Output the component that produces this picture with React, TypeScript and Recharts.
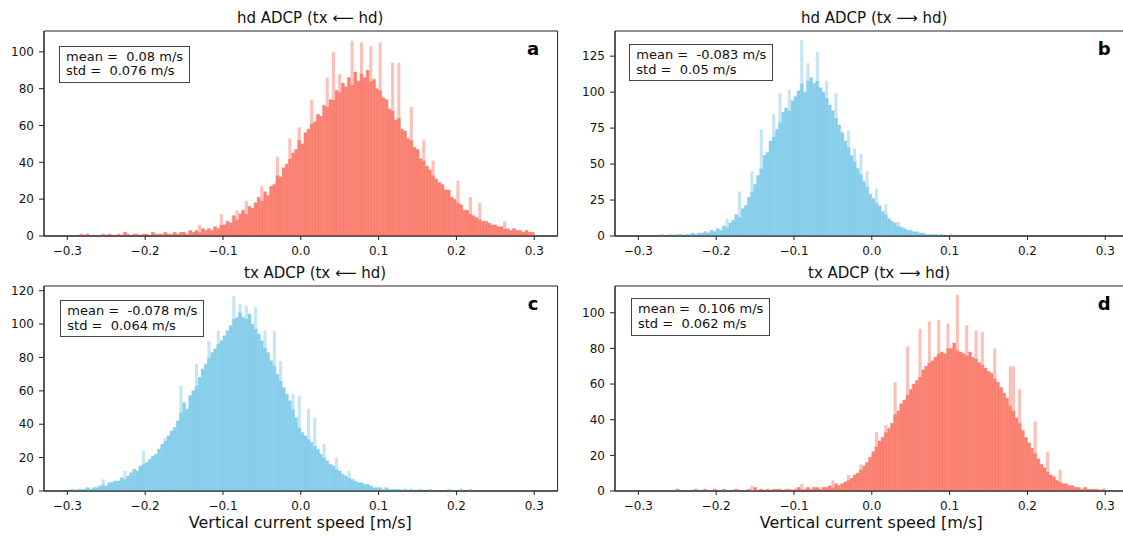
import React from 'react';
import { BarChart, Bar, XAxis, YAxis, ReferenceArea } from 'recharts';

// histogram bins: 150 bins of 0.004 m/s from -0.3 to 0.3
const BIN_START = -0.3;
const BIN_WIDTH = 0.004;

// hd ADCP (tx <- hd)
const hdLeftCounts = [
  0, 0, 0, 0, 1, 0, 1, 0, 0, 0, 0, 1, 0, 1, 0, 0, 1, 0, 2, 1, 0, 1, 1, 0, 1,
  1, 0, 2, 1, 1, 1, 2, 1, 1, 2, 1, 2, 2, 1, 3, 2, 3, 2, 4, 3, 4, 3, 5, 4, 6,
  6, 8, 7, 11, 9, 12, 14, 12, 16, 15, 18, 21, 19, 24, 22, 27, 28, 33, 32, 37, 39, 42, 45, 47, 52,
  50, 56, 58, 61, 62, 66, 65, 71, 70, 74, 74, 79, 78, 83, 81, 86, 82, 89, 84, 88, 86, 90, 84, 85, 80,
  79, 75, 74, 69, 68, 63, 64, 58, 57, 53, 52, 48, 47, 42, 41, 38, 36, 33, 31, 29, 28, 25, 25, 21, 20,
  18, 17, 14, 14, 12, 11, 10, 9, 8, 8, 7, 6, 6, 5, 5, 4, 4, 3, 4, 3, 3, 2, 3, 2, 2,
];
// taller single-bin spikes [speed, count]
const hdLeftSpikes = [
  [-0.13, 6], [-0.1, 12], [-0.081, 14], [-0.068, 19], [-0.05, 27], [-0.03, 43], [-0.013, 53],
  [-0.004, 59], [0.013, 74], [0.034, 86], [0.043, 100], [0.051, 88], [0.066, 106], [0.08, 105],
  [0.092, 103], [0.101, 105], [0.117, 94], [0.125, 94], [0.14, 70], [0.16, 52], [0.172, 41],
  [0.2, 30], [0.218, 21], [0.23, 18], [0.262, 8],
];

// hd ADCP (tx -> hd)
const hdRightCounts = [
  0, 0, 0, 0, 0, 0, 0, 1, 0, 0, 1, 0, 1, 1, 0, 1, 1, 2, 1, 2, 2, 3, 2, 4, 3,
  5, 4, 7, 6, 9, 11, 15, 13, 19, 21, 27, 31, 36, 42, 47, 56, 58, 66, 69, 74, 79, 86, 89, 87, 94,
  97, 101, 106, 100, 108, 110, 106, 108, 103, 100, 96, 91, 87, 82, 77, 72, 66, 62, 56, 52, 47, 43, 38, 34, 29,
  26, 23, 21, 17, 15, 12, 10, 9, 7, 6, 5, 4, 4, 3, 3, 2, 2, 1, 1, 1, 1, 0, 1, 0, 0,
  1, 0, 0, 0, 0, 0, 0, 0, 0, 0, 0, 0, 0, 0, 0, 0, 0, 0, 0, 0, 0, 0, 0, 0, 0,
  0, 0, 0, 0, 0, 0, 0, 0, 0, 0, 0, 0, 0, 0, 0, 0, 0, 0, 0, 0, 0, 0, 0, 0, 0,
];
const hdRightSpikes = [
  [-0.185, 12], [-0.172, 31], [-0.155, 45], [-0.142, 74], [-0.125, 85], [-0.116, 99],
  [-0.107, 102], [-0.091, 136], [-0.081, 120], [-0.068, 128], [-0.056, 108], [-0.047, 99],
  [-0.03, 73], [-0.021, 61], [-0.014, 57], [-0.006, 45], [0.007, 33], [0.02, 22], [0.033, 10],
];

// tx ADCP (tx <- hd)
const txLeftCounts = [
  0, 1, 0, 1, 1, 1, 2, 1, 2, 2, 3, 4, 3, 5, 5, 6, 6, 8, 7, 9, 11, 13, 12, 15, 16,
  17, 19, 21, 22, 25, 28, 30, 33, 36, 38, 42, 47, 53, 49, 57, 60, 63, 68, 73, 76, 80, 83, 85, 88, 90,
  93, 96, 99, 103, 104, 107, 104, 103, 106, 100, 97, 94, 90, 86, 83, 78, 75, 70, 66, 62, 58, 54, 49, 44, 38,
  35, 33, 31, 29, 27, 25, 22, 20, 18, 16, 15, 13, 12, 10, 9, 8, 7, 6, 5, 5, 4, 4, 3, 2, 2,
  2, 1, 2, 1, 1, 1, 1, 0, 1, 0, 1, 0, 0, 1, 0, 0, 1, 0, 0, 0, 0, 0, 1, 0, 0,
  0, 1, 0, 0, 1, 0, 0, 0, 0, 0, 0, 0, 0, 0, 0, 0, 0, 0, 0, 0, 0, 0, 0, 0, 0,
];
const txLeftSpikes = [
  [-0.255, 7], [-0.225, 12], [-0.2, 24], [-0.174, 32], [-0.155, 63], [-0.135, 76], [-0.12, 90],
  [-0.105, 96], [-0.086, 117], [-0.079, 112], [-0.069, 111], [-0.058, 110], [-0.045, 96],
  [-0.032, 96], [-0.024, 78], [-0.011, 58], [-0.002, 57], [0.011, 49], [0.019, 44], [0.032, 28],
  [0.045, 20], [0.062, 12],
];

// tx ADCP (tx -> hd)
const txRightCounts = [
  0, 0, 0, 0, 0, 0, 0, 0, 0, 0, 0, 0, 1, 0, 0, 0, 0, 0, 1, 0, 0, 1, 0, 0, 1,
  0, 0, 1, 0, 0, 0, 1, 0, 0, 0, 1, 0, 2, 0, 1, 0, 1, 0, 1, 1, 1, 0, 1, 1, 0,
  1, 2, 1, 1, 2, 1, 2, 2, 1, 2, 2, 3, 2, 4, 3, 4, 5, 6, 7, 9, 10, 12, 14, 16, 19,
  22, 25, 28, 30, 33, 35, 38, 43, 45, 49, 51, 54, 57, 60, 62, 64, 68, 70, 72, 73, 75, 77, 78, 77, 80,
  80, 83, 79, 78, 77, 76, 78, 75, 74, 72, 71, 69, 67, 66, 63, 61, 58, 55, 52, 48, 45, 41, 38, 34, 30,
  27, 24, 21, 18, 15, 13, 11, 9, 8, 6, 5, 4, 4, 3, 3, 2, 2, 1, 2, 1, 1, 1, 1, 0, 1,
];
const txRightSpikes = [
  [-0.155, 3], [-0.09, 4], [-0.05, 6], [-0.03, 9], [-0.015, 15], [0.005, 33], [0.018, 37],
  [0.031, 61], [0.048, 81], [0.063, 91], [0.076, 95], [0.085, 96], [0.1, 94], [0.109, 110],
  [0.122, 93], [0.132, 90], [0.141, 89], [0.16, 80], [0.18, 70], [0.188, 57], [0.21, 39],
  [0.225, 22], [0.242, 12],
];

const X_TICKS = [-0.3, -0.2, -0.1, 0, 0.1, 0.2, 0.3];
const X_DOMAIN: [number, number] = [-0.33, 0.33];

const SALMON = '#fa8072';
const SALMON_LIGHT = '#fcc0b8';
const SKYBLUE = '#87ceeb';
const SKYBLUE_LIGHT = '#c4e6f4';
const FONT = '"DejaVu Sans", Verdana, sans-serif';

const PLOT_W = 513.6;
const PLOT_H = 205;
const Y_AXIS_W = 40;
const TOP_PAD = 10;
const X_AXIS_H = 30;
const BAR_PX = (BIN_WIDTH * PLOT_W) / (X_DOMAIN[1] - X_DOMAIN[0]) - 0.01;

const toRows = (counts: number[], spikes: number[][]) =>
  counts.map((count, i) => {
    const lo = BIN_START + BIN_WIDTH * i;
    let top = count;
    spikes.forEach(([s, h]) => {
      if (s >= lo && s < lo + BIN_WIDTH) top = Math.max(top, h);
    });
    return {
      x: Math.round((lo + BIN_WIDTH / 2) * 10000) / 10000,
      count,
      spike: top - count,
    };
  });

const fmtX = (v: number) => (v < 0 ? '\u2212' : '') + Math.abs(v).toFixed(1);

const panels = [
  {
    id: 'a', title: 'hd ADCP (tx \u27f5 hd)', counts: hdLeftCounts, spikes: hdLeftSpikes,
    color: SALMON, light: SALMON_LIGHT,
    yMax: 111.3, yTicks: [0, 20, 40, 60, 80, 100], mean: '0.08', std: '0.076',
    left: 43.5, top: 30.5, titleX: 237, boxX: 59, boxY: 45.7,
  },
  {
    id: 'b', title: 'hd ADCP (tx \u27f6 hd)', counts: hdRightCounts, spikes: hdRightSpikes,
    color: SKYBLUE, light: SKYBLUE_LIGHT,
    yMax: 142.5, yTicks: [0, 25, 50, 75, 100, 125], mean: '-0.083', std: '0.05',
    left: 614.5, top: 30.5, titleX: 801, boxX: 629.3, boxY: 44,
  },
  {
    id: 'c', title: 'tx ADCP (tx \u27f5 hd)', counts: txLeftCounts, spikes: txLeftSpikes,
    color: SKYBLUE, light: SKYBLUE_LIGHT,
    yMax: 122.8, yTicks: [0, 20, 40, 60, 80, 100, 120], mean: '-0.078', std: '0.064',
    left: 43.5, top: 285.8, titleX: 244, boxX: 60.3, boxY: 300,
  },
  {
    id: 'd', title: 'tx ADCP (tx \u27f6 hd)', counts: txRightCounts, spikes: txRightSpikes,
    color: SALMON, light: SALMON_LIGHT,
    yMax: 115, yTicks: [0, 20, 40, 60, 80, 100], mean: '0.106', std: '0.062',
    left: 614.5, top: 285.8, titleX: 808, boxX: 631, boxY: 298.3,
  },
];

const axisColor = '#222';
const tickStyle = { fontSize: 12, fill: '#111', fontFamily: FONT };

const Panel = ({ p }: { p: (typeof panels)[number] }) => (
  <div style={{ position: 'absolute', left: p.left - Y_AXIS_W, top: p.top - TOP_PAD }}>
    <BarChart
      width={Y_AXIS_W + PLOT_W + 20}
      height={TOP_PAD + PLOT_H + X_AXIS_H}
      data={toRows(p.counts, p.spikes)}
      margin={{ top: TOP_PAD, right: 20, bottom: 0, left: 0 }}
      barCategoryGap={0}
      barGap={0}
    >
      <XAxis
        dataKey="x"
        type="number"
        domain={X_DOMAIN}
        allowDataOverflow
        ticks={X_TICKS}
        interval={0}
        tickFormatter={fmtX}
        height={X_AXIS_H}
        tickSize={4}
        tickMargin={6}
        stroke={axisColor}
        tick={tickStyle}
      />
      <YAxis
        type="number"
        domain={[0, p.yMax]}
        allowDataOverflow
        ticks={p.yTicks}
        interval={0}
        width={Y_AXIS_W}
        tickSize={5}
        tickMargin={5}
        stroke={axisColor}
        tick={tickStyle}
      />
      <Bar
        dataKey="count"
        stackId="h"
        fill={p.color}
        stroke={p.color}
        strokeWidth={0.5}
        barSize={BAR_PX}
        isAnimationActive={false}
      />
      <Bar
        dataKey="spike"
        stackId="h"
        fill={p.light}
        barSize={BAR_PX}
        isAnimationActive={false}
      />
      <ReferenceArea
        x1={X_DOMAIN[0]}
        x2={X_DOMAIN[1]}
        y1={0}
        y2={p.yMax}
        fill="none"
        stroke={axisColor}
        strokeWidth={1}
        ifOverflow="visible"
      />
    </BarChart>
  </div>
);

const StatsBox = ({ p }: { p: (typeof panels)[number] }) => (
  <div
    style={{
      position: 'absolute',
      left: p.boxX,
      top: p.boxY,
      border: '1px solid #444',
      background: '#fff',
      padding: '3px 6px',
      fontFamily: FONT,
      fontSize: 13,
      lineHeight: '14.7px',
      color: '#111',
      whiteSpace: 'pre',
    }}
  >
    {`mean =  ${p.mean} m/s\nstd =  ${p.std} m/s`}
  </div>
);

export default function App() {
  return (
    <div
      style={{
        position: 'absolute',
        left: 0,
        top: 0,
        width: 1123,
        height: 536,
        overflow: 'hidden',
        background: '#fff',
        fontFamily: FONT,
      }}
    >
      {panels.map((p) => (
        <Panel key={p.id} p={p} />
      ))}
      {panels.map((p) => (
        <StatsBox key={p.id} p={p} />
      ))}
      <svg
        width={1123}
        height={536}
        style={{ position: 'absolute', left: 0, top: 0, pointerEvents: 'none' }}
        fontFamily={FONT}
      >
        {panels.map((p) => (
          <g key={p.id}>
            <text x={p.titleX} y={p.top - 7.8} fontSize={15} fill="#111">
              {p.title}
            </text>
            <text
              x={p.left + PLOT_W - 24}
              y={p.top + 24}
              fontSize={18}
              fontWeight="bold"
              textAnchor="middle"
              fill="#000"
            >
              {p.id}
            </text>
          </g>
        ))}
        <text x={43.5 + PLOT_W / 2} y={528} fontSize={16} textAnchor="middle" fill="#111">
          Vertical current speed [m/s]
        </text>
        <text x={614.5 + PLOT_W / 2} y={528} fontSize={16} textAnchor="middle" fill="#111">
          Vertical current speed [m/s]
        </text>
      </svg>
    </div>
  );
}
